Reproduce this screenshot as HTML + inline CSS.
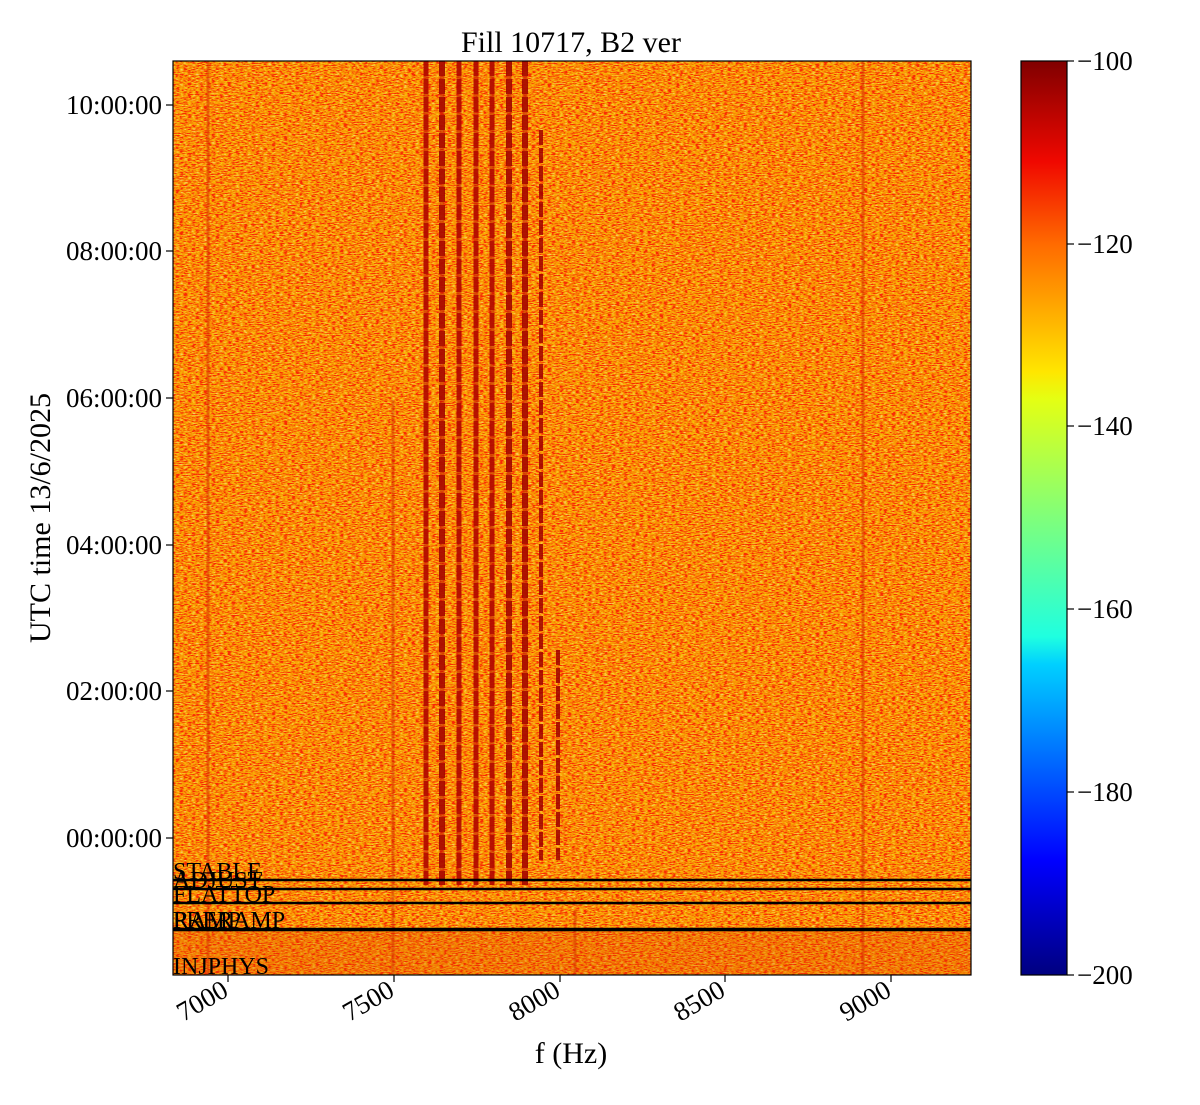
<!DOCTYPE html>
<html><head><meta charset="utf-8"><style>
html,body{margin:0;padding:0;background:#fff;}
svg text{font-family:"Liberation Serif",serif;fill:#000;}
</style></head><body>
<svg width="1200" height="1100" viewBox="0 0 1200 1100" xmlns="http://www.w3.org/2000/svg">
<defs>
<filter id="nz" x="0" y="0" width="100%" height="100%">
<feTurbulence type="fractalNoise" baseFrequency="0.25 0.9" numOctaves="2" seed="4" result="t"/>
<feColorMatrix in="t" type="matrix" values="0 0 0 0 1  3.2 0 0 0 -1.2  3 0 0 0 -2.0  0 0 0 0 1"/>
</filter>
<linearGradient id="jet" x1="0" y1="1" x2="0" y2="0">
<stop offset="0" stop-color="#000080"/><stop offset="0.11" stop-color="#0000f0"/>
<stop offset="0.125" stop-color="#0000ff"/><stop offset="0.34" stop-color="#00d0ff"/>
<stop offset="0.37" stop-color="#1fffe0"/><stop offset="0.5" stop-color="#7fff7b"/>
<stop offset="0.63" stop-color="#e4ff13"/><stop offset="0.66" stop-color="#ffe600"/>
<stop offset="0.8" stop-color="#ff6a00"/><stop offset="0.89" stop-color="#f00800"/>
<stop offset="1" stop-color="#800000"/>
</linearGradient>
<clipPath id="pc"><rect x="173" y="61" width="798" height="914"/></clipPath>
</defs>
<g clip-path="url(#pc)">
<rect x="173" y="61" width="798" height="914" fill="#f26a0e"/>
<rect x="173" y="61" width="798" height="914" filter="url(#nz)" opacity="0.6"/>
<g stroke="#a00000" opacity="0.85" stroke-dasharray="15 3">
<line x1="426" y1="61" x2="426" y2="885" stroke-width="5"/>
<line x1="442" y1="61" x2="442" y2="885" stroke-width="6" stroke="#880000"/>
<line x1="459" y1="61" x2="459" y2="885" stroke-width="5"/>
<line x1="476" y1="61" x2="476" y2="885" stroke-width="5"/>
<line x1="492" y1="61" x2="492" y2="885" stroke-width="5"/>
<line x1="509" y1="61" x2="509" y2="885" stroke-width="6" stroke="#880000"/>
<line x1="525" y1="61" x2="525" y2="885" stroke-width="6" stroke="#880000"/>
<line x1="541" y1="130" x2="541" y2="860" stroke-width="4"/>
<line x1="558" y1="650" x2="558" y2="860" stroke-width="4"/>
</g>
<g stroke="#c01000" opacity="0.55" stroke-width="5">
<line x1="426" y1="61" x2="426" y2="885"/>
<line x1="442" y1="61" x2="442" y2="885"/>
<line x1="459" y1="61" x2="459" y2="885"/>
<line x1="476" y1="61" x2="476" y2="885"/>
<line x1="492" y1="61" x2="492" y2="885"/>
<line x1="509" y1="61" x2="509" y2="885"/>
<line x1="525" y1="61" x2="525" y2="885"/>
</g>
<g stroke="#d02000" opacity="0.45" stroke-width="3">
<line x1="393" y1="400" x2="393" y2="975"/>
<line x1="863" y1="61" x2="863" y2="975"/>
<line x1="208" y1="61" x2="208" y2="975"/>
<line x1="575" y1="910" x2="575" y2="975"/>
</g>
<rect x="173" y="930" width="798" height="45" fill="#e03a05" opacity="0.25"/>
<g stroke="#000" stroke-width="2.5">
<line x1="173" y1="880" x2="971" y2="880"/>
<line x1="173" y1="889" x2="971" y2="889"/>
<line x1="173" y1="903" x2="971" y2="903"/>
<line x1="173" y1="929.5" x2="971" y2="929.5" stroke-width="3.5"/>
</g>
<g font-size="24">
<text x="173" y="879">STABLE</text>
<text x="173" y="888">ADJUST</text>
<text x="173" y="902">FLATTOP</text>
<text x="173" y="928">PRERAMP</text>
<text x="173" y="928">RAMP</text>
<text x="173" y="974">INJPHYS</text>
</g>
</g>
<rect x="173" y="61" width="798" height="914" fill="none" stroke="#000" stroke-width="1.2"/>
<g stroke="#000" stroke-width="1.2">
<line x1="228" y1="975" x2="228" y2="982"/><line x1="394" y1="975" x2="394" y2="982"/>
<line x1="560" y1="975" x2="560" y2="982"/><line x1="725" y1="975" x2="725" y2="982"/>
<line x1="891" y1="975" x2="891" y2="982"/>
<line x1="166" y1="105" x2="173" y2="105"/><line x1="166" y1="251" x2="173" y2="251"/>
<line x1="166" y1="398" x2="173" y2="398"/><line x1="166" y1="545" x2="173" y2="545"/>
<line x1="166" y1="691" x2="173" y2="691"/><line x1="166" y1="838" x2="173" y2="838"/>
</g>
<g font-size="27" text-anchor="end">
<text x="162" y="114">10:00:00</text><text x="162" y="260">08:00:00</text>
<text x="162" y="407">06:00:00</text><text x="162" y="554">04:00:00</text>
<text x="162" y="700">02:00:00</text><text x="162" y="847">00:00:00</text>
<text transform="translate(230,995) rotate(-30)">7000</text>
<text transform="translate(396,995) rotate(-30)">7500</text>
<text transform="translate(562,995) rotate(-30)">8000</text>
<text transform="translate(727,995) rotate(-30)">8500</text>
<text transform="translate(893,995) rotate(-30)">9000</text>
</g>
<text x="571" y="1063" font-size="30" text-anchor="middle">f (Hz)</text>
<text transform="translate(50,518) rotate(-90)" font-size="30" text-anchor="middle">UTC time 13/6/2025</text>
<text x="571" y="52" font-size="30" text-anchor="middle">Fill 10717, B2 ver</text>
<rect x="1021" y="61" width="46" height="914" fill="url(#jet)" stroke="#000" stroke-width="1.2"/>
<g stroke="#000" stroke-width="1.2">
<line x1="1067" y1="61" x2="1074" y2="61"/><line x1="1067" y1="244" x2="1074" y2="244"/>
<line x1="1067" y1="426" x2="1074" y2="426"/><line x1="1067" y1="609" x2="1074" y2="609"/>
<line x1="1067" y1="792" x2="1074" y2="792"/><line x1="1067" y1="975" x2="1074" y2="975"/>
</g>
<g font-size="27">
<text x="1077" y="70">−100</text><text x="1077" y="253">−120</text>
<text x="1077" y="435">−140</text><text x="1077" y="618">−160</text>
<text x="1077" y="801">−180</text><text x="1077" y="984">−200</text>
</g>
</svg>
</body></html>
